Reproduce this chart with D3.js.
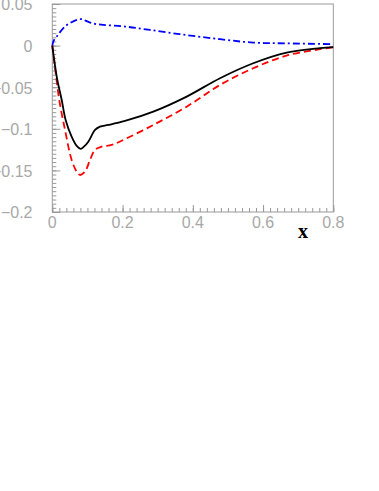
<!DOCTYPE html>
<html>
<head>
<meta charset="utf-8">
<script src="https://cdn.jsdelivr.net/npm/d3@7/dist/d3.min.js"></script>
<style>
html,body{margin:0;padding:0;background:#fff;}
svg{display:block;}
</style>
</head>
<body>
<svg id="chart" width="379" height="491"></svg>
<script>
// ---- data ----
const blackX = [0, 0.007, 0.0142, 0.0268, 0.038, 0.055, 0.0695, 0.0808, 0.09, 0.1025, 0.1216, 0.1358, 0.1594, 0.207, 0.2875, 0.3826, 0.4774, 0.572, 0.667, 0.762, 0.8];
const blackY = [0, -0.022, -0.041, -0.0654, -0.0894, -0.1094, -0.1206, -0.1242, -0.1215, -0.1155, -0.1014, -0.0974, -0.0954, -0.0906, -0.0794, -0.0613, -0.0392, -0.0212, -0.0084, -0.0031, -0.0019];

const redX = [0, 0.007, 0.012, 0.02, 0.0362, 0.0552, 0.0695, 0.0789, 0.0931, 0.1073, 0.1216, 0.1406, 0.1691, 0.1976, 0.2875, 0.3826, 0.4774, 0.572, 0.667, 0.762, 0.8];
const redY = [0, -0.024, -0.041, -0.066, -0.1014, -0.1375, -0.1515, -0.1555, -0.1515, -0.1375, -0.1254, -0.1215, -0.1194, -0.1143, -0.0954, -0.0734, -0.0473, -0.0272, -0.012, -0.0043, -0.0019];

const blueX = [0, 0.004, 0.0125, 0.036, 0.0695, 0.0837, 0.1045, 0.1216, 0.145, 0.207, 0.278, 0.373, 0.4774, 0.572, 0.667, 0.8];
const blueY = [0, 0.006, 0.0108, 0.0229, 0.0309, 0.0317, 0.0281, 0.0261, 0.0249, 0.0229, 0.0188, 0.0132, 0.0077, 0.0036, 0.0027, 0.0017];

const xTickLabels = ["0", "0.2", "0.4", "0.6", "0.8"];
const xTickValues = [0, 0.2, 0.4, 0.6, 0.8];
const yTickLabels = ["0.05", "0", "\u22120.05", "\u22120.1", "\u22120.15", "\u22120.2"];
const yTickValues = [0.05, 0, -0.05, -0.1, -0.15, -0.2];
const xTitle = "x";

// ---- layout ----
const pLeft = 52.3, pRight = 333.3, pTop = 4, pBottom = 212;
const svg = d3.select("#chart");
const x = d3.scaleLinear().domain([0, 0.8]).range([pLeft, pRight]);
const y = d3.scaleLinear().domain([-0.2, 0.05]).range([pBottom, pTop]);

const axisColor = "#999";
const labelColor = "#a8a8a8";

// frame
svg.append("rect").attr("x", pLeft).attr("y", pTop).attr("width", pRight - pLeft).attr("height", pBottom - pTop)
  .attr("fill", "none").attr("stroke", axisColor).attr("stroke-width", 1);

// x ticks (inward)
const xMinor = d3.range(0, 0.8001, 0.02);
svg.append("g").attr("transform", `translate(0,${pBottom})`)
  .call(d3.axisBottom(x).tickValues(xMinor).tickSize(-4).tickFormat(""))
  .call(g => { g.select(".domain").remove(); g.selectAll("line").attr("stroke", axisColor); });
svg.append("g").attr("transform", `translate(0,${pBottom})`)
  .call(d3.axisBottom(x).tickValues(xTickValues).tickSize(-7).tickFormat(""))
  .call(g => { g.select(".domain").remove(); g.selectAll("line").attr("stroke", axisColor); });

// y ticks (inward)
const yMinor = d3.range(-0.2, 0.0501, 0.005);
svg.append("g").attr("transform", `translate(${pLeft},0)`)
  .call(d3.axisLeft(y).tickValues(yMinor).tickSize(-4).tickFormat(""))
  .call(g => { g.select(".domain").remove(); g.selectAll("line").attr("stroke", axisColor); });
svg.append("g").attr("transform", `translate(${pLeft},0)`)
  .call(d3.axisLeft(y).tickValues(yTickValues).tickSize(-8).tickFormat(""))
  .call(g => { g.select(".domain").remove(); g.selectAll("line").attr("stroke", axisColor); });

// tick labels
svg.append("g").selectAll("text").data(xTickValues).join("text")
  .attr("x", d => x(d)).attr("y", pBottom + 15.5)
  .attr("text-anchor", "middle")
  .attr("font-family", "Liberation Sans, Arial, sans-serif").attr("font-size", 16)
  .attr("fill", labelColor)
  .text((d, i) => xTickLabels[i]);

svg.append("g").selectAll("text").data(yTickValues).join("text")
  .attr("x", 32.5).attr("y", d => y(d) + 6.3)
  .attr("text-anchor", "end")
  .attr("font-family", "Liberation Sans, Arial, sans-serif").attr("font-size", 16)
  .attr("fill", labelColor)
  .text((d, i) => yTickLabels[i]);

// x title
svg.append("text").attr("x", 303).attr("y", 237.5).attr("text-anchor", "middle")
  .attr("font-family", "Liberation Serif, Times New Roman, serif").attr("font-weight", "bold")
  .attr("font-size", 20).attr("fill", "#000").text(xTitle);

// curves
const line = d3.line().x(d => x(d[0])).y(d => y(d[1])).curve(d3.curveCatmullRom.alpha(0.5));
const zip = (a, b) => a.map((v, i) => [v, b[i]]);

svg.append("path").datum(zip(blueX, blueY)).attr("d", line)
  .attr("fill", "none").attr("stroke", "#0000ff").attr("stroke-width", 1.8)
  .attr("stroke-dasharray", "7,3,2,3");
svg.append("path").datum(zip(redX, redY)).attr("d", line)
  .attr("fill", "none").attr("stroke", "#ff0000").attr("stroke-width", 1.8)
  .attr("stroke-dasharray", "7,4");
svg.append("path").datum(zip(blackX, blackY)).attr("d", line)
  .attr("fill", "none").attr("stroke", "#000").attr("stroke-width", 1.8);
</script>
</body>
</html>
